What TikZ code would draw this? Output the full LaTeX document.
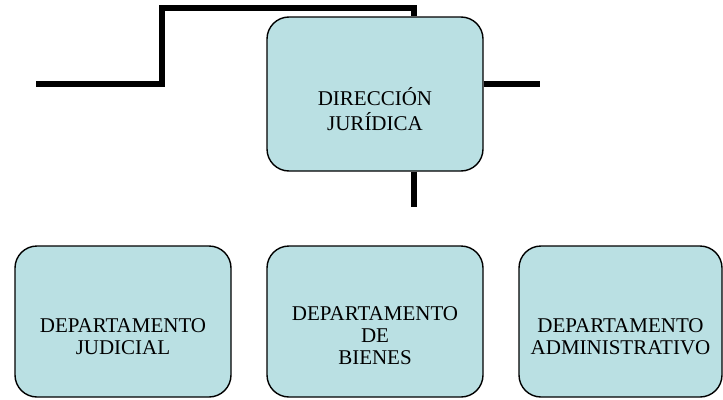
\documentclass[tikz,border=0pt]{standalone}
\usepackage{fontspec}
\setmainfont{Liberation Serif}
\usetikzlibrary{positioning}
\definecolor{cajaazul}{HTML}{BAE0E3}

\begin{document}
\begin{tikzpicture}[x=1pt, y=-1pt]
	\tikzstyle{caja} = [draw, line width=1.4pt, fill=cajaazul, rectangle, rounded corners=22pt, minimum width=216pt, minimum height=151pt, inner sep=0pt]
	\tikzstyle{texto} = [align=center, inner sep=0pt, font=\fontsize{21pt}{22pt}\selectfont]
	\tikzstyle{linea} = [line width=5.5pt]

	\useasboundingbox (0,0) rectangle (723,399);

	% lineas del organigrama
	\coordinate (izq) at (36,84);
	\coordinate (codo1) at (162,84);
	\coordinate (codo2) at (162,8);
	\coordinate (codo3) at (414,8);
	\coordinate (der) at (540,84);
	\coordinate (abajo) at (414,207);

	% caja principal
	\node[caja, minimum height=154pt] (dir) at (375,94) {};
	\node[texto, font=\fontsize{21pt}{25pt}\selectfont] (dirtxt) at ([yshift=-15pt]dir.center) {DIRECCIÓN\\JURÍDICA};

	\draw[linea] (izq) -- (codo1) -- (codo2) -- (codo3) -- (codo3 |- dir.north);
	\draw[linea] (dir.east |- der) -- (der);
	\draw[linea] (abajo |- dir.south) -- (abajo);

	% departamentos
	\node[caja] (jud) at (123,321.5) {};
	\node[caja] (bie) at (375,321.5) {};
	\node[caja, minimum width=203pt] (adm) at (620.5,321.5) {};

	\node[texto] (judtxt) at ([yshift=-15pt]jud.center) {DEPARTAMENTO\\JUDICIAL};
	\node[texto] (bietxt) at ([yshift=-14pt]bie.center) {DEPARTAMENTO\\DE\\BIENES};
	\node[texto] (admtxt) at ([yshift=-15pt]adm.center) {DEPARTAMENTO\\ADMINISTRATIVO};
\end{tikzpicture}
\end{document}
